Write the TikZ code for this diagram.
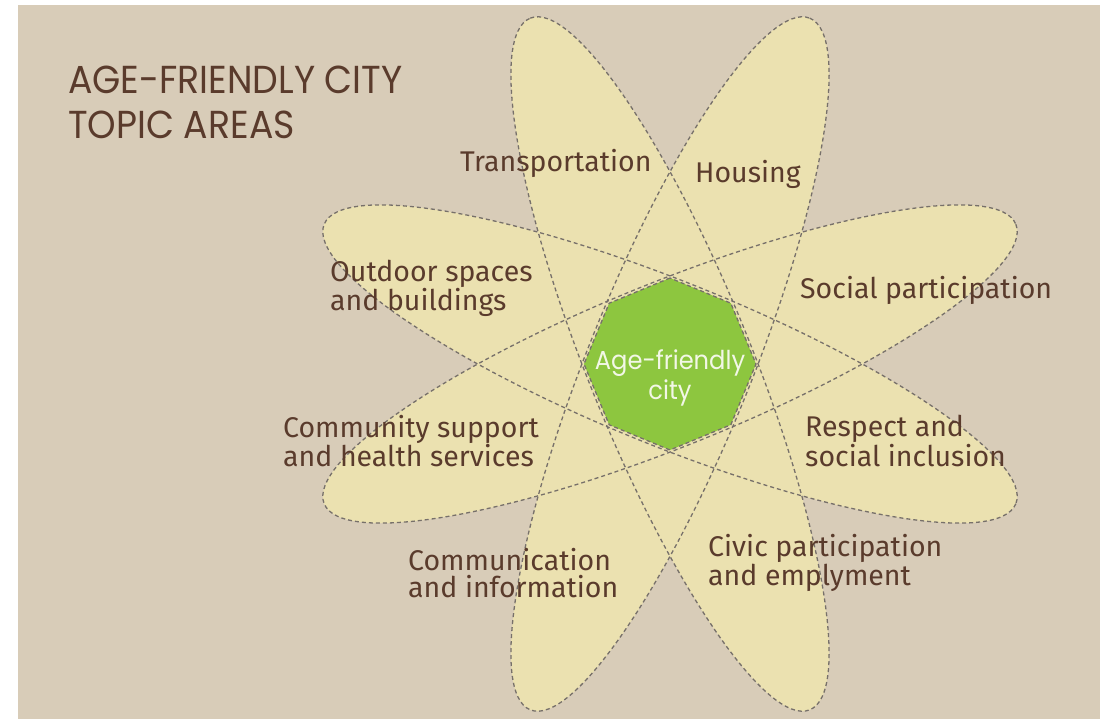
\documentclass[tikz,border=0pt]{standalone}
\usepackage{fontspec}
\setmainfont{Fira Sans}
\newfontfamily\titlefont[FakeStretch=0.93]{Poppins}
\usetikzlibrary{shapes.geometric}
\definecolor{bg}{HTML}{D8CCB8}
\definecolor{petal}{HTML}{EBE1B0}
\definecolor{dashc}{HTML}{77706A}
\definecolor{hubgreen}{HTML}{8DC63F}
\definecolor{txt}{HTML}{5A3B2C}
\definecolor{hubtxt}{HTML}{F2F7E6}
\tikzset{
  petalfill/.style={fill=petal},
  petalline/.style={draw=dashc, line width=1.3pt, dash pattern=on 4pt off 3pt},
  lbl/.style={font=\fontsize{28.5}{27}\selectfont, text=txt, align=left, anchor=west, inner sep=0pt},
  hubshape/.style={regular polygon, regular polygon sides=8, shape border rotate=22.5,
    minimum size=172pt, inner sep=0pt, fill=hubgreen, draw=dashc, line width=1.3pt, dash pattern=on 4pt off 3pt},
  hubtext/.style={font=\titlefont\fontsize{26}{30}\selectfont, text=hubtxt, align=center, inner sep=0pt},
  titletext/.style={font=\titlefont\fontsize{39}{45}\selectfont, text=txt, align=left, anchor=west, inner sep=0pt}
}
\begin{document}
\begin{tikzpicture}[x=1pt,y=-1pt]
\useasboundingbox (0,0) rectangle (1112,719);
\fill[white] (0,0) rectangle (1112,719);
\fill[bg] (18,5) rectangle (1100,719);
\coordinate (c) at (670,364);
\foreach \a in {22,-22,68,112}
  \path[petalfill] (c) ellipse [x radius=373, y radius=82, rotate=\a];
\foreach \a in {22,-22,68,112}
  \path[petalline] (c) ellipse [x radius=373, y radius=82, rotate=\a];
\node[hubshape] (hub) at (c) {};
\node[hubtext] (hubt) at (670,378) {Age-friendly\\city};
\node[titletext] (title) at (68,102) {AGE-FRIENDLY CITY\\TOPIC AREAS};
\node[lbl] (transp) at (460,163) {Transportation};
\node[lbl] (housing) at (695,174) {Housing};
\node[lbl] (outdoor) at (330,288) {Outdoor spaces\\and buildings};
\node[lbl] (social) at (800,290) {Social participation};
\node[lbl] (community) at (283,441) {Community support\\and health services};
\node[lbl] (respect) at (805,441) {Respect and\\social inclusion};
\node[lbl] (commun) at (408,573) {Communication\\and information};
\node[lbl] (civic) at (708,563) {Civic participation\\and emplyment};
\end{tikzpicture}
\end{document}
